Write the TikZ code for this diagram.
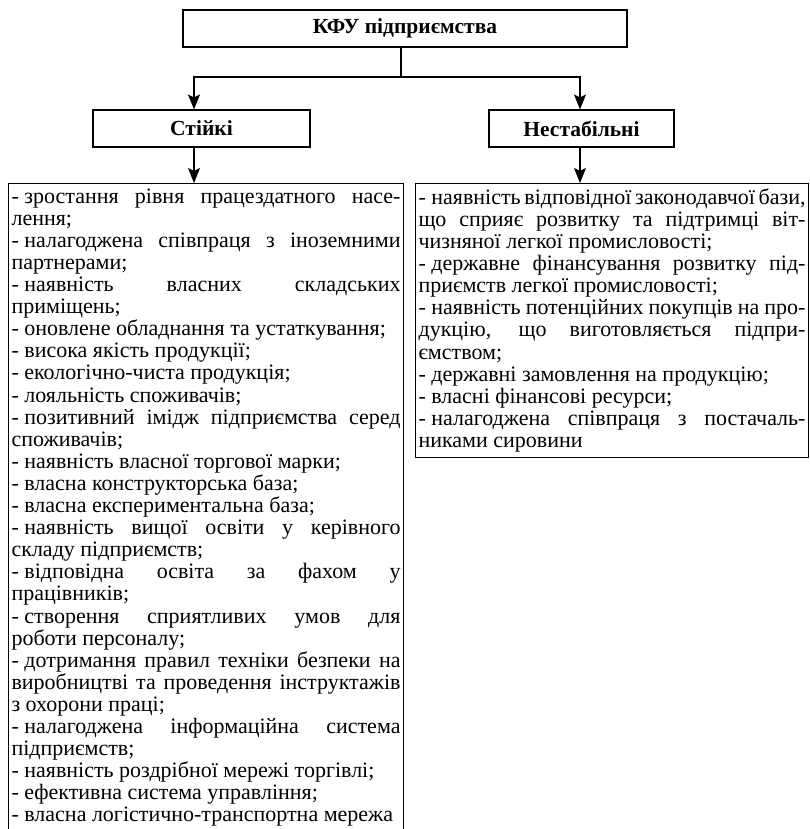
\documentclass[tikz,border=0pt]{standalone}
\usepackage{fontspec}
\setmainfont{Liberation Serif}
\usetikzlibrary{arrows.meta}
\newlength\lw
\newcommand\jline[1]{\makebox[\lw][s]{#1}}
\newcommand\rline[1]{\makebox[\lw][l]{#1}}
\newcommand\dd{-\kern.25em}

\begin{document}
\begin{tikzpicture}[x=1pt,y=-1pt,
  box/.style={draw,line width=1.1pt,minimum height=37pt,font=\fontsize{21.5}{24}\selectfont\bfseries},
  list/.style={draw,line width=1.1pt,anchor=north west,align=left,inner xsep=3pt,inner ysep=5pt,font=\fontsize{22}{22.1}\selectfont},
  arr/.style={line width=1.1pt,-{Stealth[length=15pt,width=12pt,inset=3pt]}}]
  \useasboundingbox (0,0) rectangle (810,829);
  \node[box,minimum width=444pt] (kfu) at (405,28.5) {КФУ підприємства};
  \node[box,minimum width=217pt] (stiiki) at (201.5,128.5) {Стійкі};
  \node[box,minimum width=185pt] (nestab) at (581.5,128.5) {Нестабільні};
  \setlength\lw{389pt}
  \node[list] (stlist) at (8,183) {%
    \jline{\dd зростання рівня працездатного насе-}\\
    \rline{лення;}\\
    \jline{\dd налагоджена співпраця з іноземними}\\
    \rline{партнерами;}\\
    \jline{\dd наявність власних складських}\\
    \rline{приміщень;}\\
    \rline{\dd оновлене обладнання та устаткування;}\\
    \rline{\dd висока якість продукції;}\\
    \rline{\dd екологічно-чиста продукція;}\\
    \rline{\dd лояльність споживачів;}\\
    \jline{\dd позитивний імідж підприємства серед}\\
    \rline{споживачів;}\\
    \rline{\dd наявність власної торгової марки;}\\
    \rline{\dd власна конструкторська база;}\\
    \rline{\dd власна експериментальна база;}\\
    \jline{\dd наявність вищої освіти у керівного}\\
    \rline{складу підприємств;}\\
    \jline{\dd відповідна освіта за фахом у}\\
    \rline{працівників;}\\
    \jline{\dd створення сприятливих умов для}\\
    \rline{роботи персоналу;}\\
    \jline{\dd дотримання правил техніки безпеки на}\\
    \jline{виробництві та проведення інструктажів}\\
    \rline{з охорони праці;}\\
    \jline{\dd налагоджена інформаційна система}\\
    \rline{підприємств;}\\
    \rline{\dd наявність роздрібної мережі торгівлі;}\\
    \rline{\dd ефективна система управління;}\\
    \rline{\dd власна логістично-транспортна мережа}};
  \setlength\lw{387pt}
  \node[list] (nelist) at (415,183) {%
    \jline{\dd наявність відповідної законодавчої бази,}\\
    \jline{що сприяє розвитку та підтримці віт-}\\
    \rline{чизняної легкої промисловості;}\\
    \jline{\dd державне фінансування розвитку під-}\\
    \rline{приємств легкої промисловості;}\\
    \jline{\dd наявність потенційних покупців на про-}\\
    \jline{дукцію, що виготовляється підпри-}\\
    \rline{ємством;}\\
    \rline{\dd державні замовлення на продукцію;}\\
    \rline{\dd власні фінансові ресурси;}\\
    \jline{\dd налагоджена співпраця з постачаль-}\\
    \rline{никами сировини}};
  \coordinate (split) at (401,77);
  \coordinate (ls) at (194,77);
  \coordinate (rs) at (580,77);
  \draw[line width=1.1pt] (split |- kfu.south) -- (split);
  \draw[arr] (split) -| (ls |- stiiki.north);
  \draw[arr] (split) -| (rs |- nestab.north);
  \draw[arr] (ls |- stiiki.south) -- (ls |- stlist.north);
  \draw[arr] (rs |- nestab.south) -- (rs |- nelist.north);
\end{tikzpicture}
\end{document}
